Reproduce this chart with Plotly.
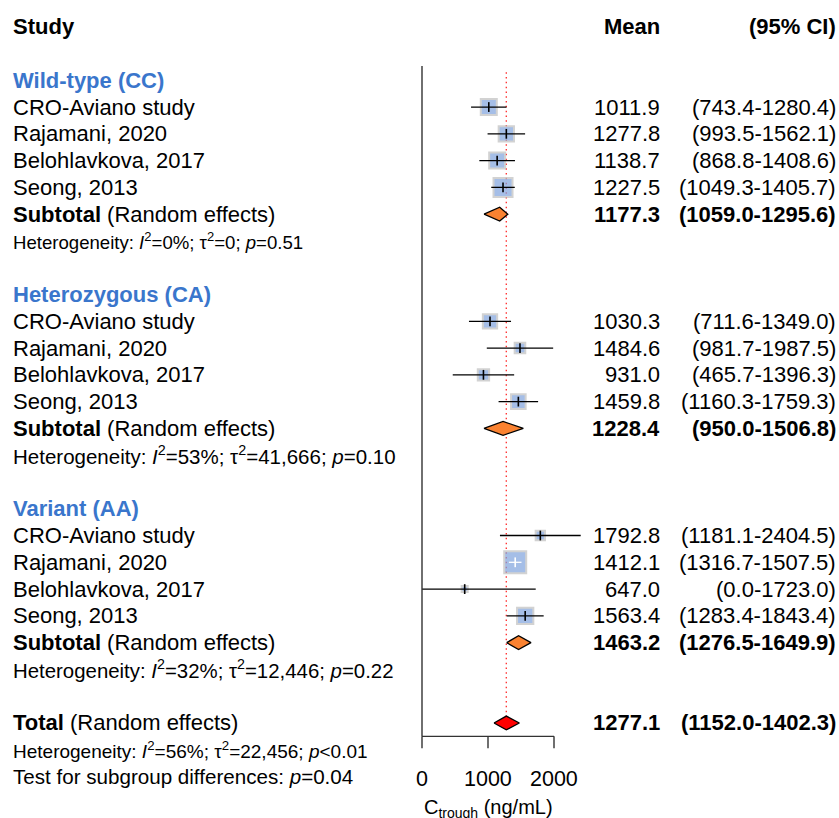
import plotly.graph_objects as go

# ---------------- data ----------------
groups = ["Wild-type (CC)", "Heterozygous (CA)", "Variant (AA)"]
studies = ["CRO-Aviano study", "Rajamani, 2020", "Belohlavkova, 2017", "Seong, 2013"]

mean_cc = [1011.9, 1277.8, 1138.7, 1227.5]
lo_cc = [743.4, 993.5, 868.8, 1049.3]
hi_cc = [1280.4, 1562.1, 1408.6, 1405.7]

mean_ca = [1030.3, 1484.6, 931.0, 1459.8]
lo_ca = [711.6, 981.7, 465.7, 1160.3]
hi_ca = [1349.0, 1987.5, 1396.3, 1759.3]

mean_aa = [1792.8, 1412.1, 647.0, 1563.4]
lo_aa = [1181.1, 1316.7, 0.0, 1283.4]
hi_aa = [2404.5, 1507.5, 1723.0, 1843.4]

# relative study weights (box size)
weight_cc = [16.0, 15.3, 16.0, 19.0]
weight_ca = [14.3, 10.6, 11.3, 14.6]
weight_aa = [9.3, 22.0, 6.0, 16.3]

sub_mean = [1177.3, 1228.4, 1463.2]
sub_lo = [1059.0, 950.0, 1276.5]
sub_hi = [1295.6, 1506.8, 1649.9]
# diamond extents as drawn in the picture
sub_draw_lo = [940.0, 939.0, 1283.0]
sub_draw_hi = [1300.0, 1535.0, 1651.0]

het_i2 = ["0%", "53%", "32%"]
het_tau2 = ["0", "41,666", "12,446"]
het_p = ["=0.51", "=0.10", "=0.22"]

total_mean = 1277.1
total_lo = 1152.0
total_hi = 1402.3
total_draw_lo = 1091.0
total_draw_hi = 1475.0
total_i2 = "56%"
total_tau2 = "22,456"
total_p = "<0.01"
subgroup_p = "=0.04"

x_ticks = [0, 1000, 2000]
x_tick_labels = ["0", "1000", "2000"]

# ---------------- geometry / style ----------------
W, H = 839, 818
x0_px = 422.0                # page x of value 0
ppu = 0.066                  # pixels per unit
row0_px = 26.7               # page y of row 0
row_h = 26.78
FONT = "Liberation Sans, Arial, Helvetica, sans-serif"
BLUE = "#3a76cc"
BOX_FILL = "#7fa3dd"
BOX_LINE = "#c0c0c0"
ORANGE = "#fa8231"
HET_FONT = [18.6, 20.5, 20.4]
HET_FONT_TOTAL = 19

all_means = [mean_cc, mean_ca, mean_aa]
all_lo = [lo_cc, lo_ca, lo_aa]
all_hi = [hi_cc, hi_ca, hi_aa]
all_w = [weight_cc, weight_ca, weight_aa]

fig = go.Figure()
annotations = []


def txt(x_px, row, s, anchor="left", size=22, color="black"):
    annotations.append(dict(
        x=x_px / W, xref="paper", y=row, yref="y", text=s, showarrow=False,
        xanchor=anchor, yanchor="middle", borderpad=0, borderwidth=0,
        font=dict(family=FONT, size=size, color=color)))


# header
txt(13, 0, "<b>Study</b>")
txt(660, 0, "<b>Mean</b>", anchor="right")
txt(836, 0, "<b>(95% CI)</b>", anchor="right")

box_x, box_y, box_s = [], [], []
ci_black_x, ci_black_y, ci_white_x, ci_white_y = [], [], [], []
tick_black_x, tick_black_y, tick_white_x, tick_white_y = [], [], [], []
dia_x, dia_y = [], []
hh = 6.9 / row_h

for g in range(3):
    r0 = 2 + g * 8
    txt(13, r0, "<b>" + groups[g] + "</b>", color=BLUE)
    for i in range(4):
        r = r0 + 1 + i
        m, lo, hi, w = all_means[g][i], all_lo[g][i], all_hi[g][i], all_w[g][i]
        txt(13, r, studies[i])
        txt(660, r, f"{m:.1f}", anchor="right")
        txt(836, r, f"({lo:.1f}-{hi:.1f})", anchor="right")
        box_x.append(m); box_y.append(r); box_s.append(w)
        if (hi - lo) * ppu < w:
            ci_white_x += [lo, hi, None]; ci_white_y += [r, r, None]
            tick_white_x.append(m); tick_white_y.append(r)
        else:
            ci_black_x += [lo, hi, None]; ci_black_y += [r, r, None]
            tick_black_x.append(m); tick_black_y.append(r)
    rs = r0 + 5
    txt(13, rs, "<b>Subtotal</b> (Random effects)")
    txt(660, rs, f"<b>{sub_mean[g]:.1f}</b>", anchor="right")
    txt(836, rs, f"<b>({sub_lo[g]:.1f}-{sub_hi[g]:.1f})</b>", anchor="right")
    dia_x += [sub_draw_lo[g], sub_mean[g], sub_draw_hi[g], sub_mean[g], sub_draw_lo[g], None]
    dia_y += [rs, rs - hh, rs, rs + hh, rs, None]
    txt(13, rs + 1, "Heterogeneity: <i>I</i><sup>2</sup>=" + het_i2[g] + "; τ<sup>2</sup>="
        + het_tau2[g] + "; <i>p</i>" + het_p[g], size=HET_FONT[g])

rt = 26
txt(13, rt, "<b>Total</b> (Random effects)")
txt(660, rt, f"<b>{total_mean:.1f}</b>", anchor="right")
txt(836, rt, f"<b>({total_lo:.1f}-{total_hi:.1f})</b>", anchor="right")
txt(13, rt + 1, "Heterogeneity: <i>I</i><sup>2</sup>=" + total_i2 + "; τ<sup>2</sup>="
    + total_tau2 + "; <i>p</i>" + total_p, size=HET_FONT_TOTAL)
txt(13, rt + 2, "Test for subgroup differences: <i>p</i>" + subgroup_p, size=20.6)

# reference (dotted) line at the total estimate
fig.add_trace(go.Scatter(x=[total_mean, total_mean], y=[1.7, 25.75], mode="lines",
                         line=dict(color="#ff2a2a", width=1.3, dash="1.5px,3.3px"),
                         hoverinfo="skip"))

# boxes
fig.add_trace(go.Scatter(x=box_x, y=box_y, mode="markers",
                         marker=dict(symbol="square", size=box_s, color=BOX_FILL,
                                     line=dict(color=BOX_LINE, width=2)),
                         hoverinfo="skip"))
# CIs
fig.add_trace(go.Scatter(x=ci_black_x, y=ci_black_y, mode="lines",
                         line=dict(color="black", width=1.3), hoverinfo="skip"))
fig.add_trace(go.Scatter(x=ci_white_x, y=ci_white_y, mode="lines",
                         line=dict(color="white", width=1.3), hoverinfo="skip"))
fig.add_trace(go.Scatter(x=tick_black_x, y=tick_black_y, mode="markers",
                         marker=dict(symbol="line-ns", size=7,
                                     line=dict(color="black", width=1.6)),
                         hoverinfo="skip"))
fig.add_trace(go.Scatter(x=tick_white_x, y=tick_white_y, mode="markers",
                         marker=dict(symbol="line-ns", size=7,
                                     line=dict(color="white", width=1.6)),
                         hoverinfo="skip"))
# subtotal diamonds
fig.add_trace(go.Scatter(x=dia_x, y=dia_y, mode="lines", fill="toself",
                         fillcolor=ORANGE, line=dict(color="black", width=1.3),
                         hoverinfo="skip"))
# total diamond
fig.add_trace(go.Scatter(
    x=[total_draw_lo, total_mean, total_draw_hi, total_mean, total_draw_lo],
    y=[rt, rt - hh, rt, rt + hh, rt], mode="lines", fill="toself",
    fillcolor="#ff0000", line=dict(color="black", width=1.3), hoverinfo="skip"))

# axes drawn as lines
axis_row = 26.5
tick_len = 12 / row_h
ax_x = [x_ticks[0], x_ticks[-1], None]
ax_y = [axis_row, axis_row, None]
for t in x_ticks:
    ax_x += [t, t, None]
    ax_y += [axis_row, axis_row + tick_len, None]
ax_x += [0, 0]
ax_y += [1.47, axis_row]
fig.add_trace(go.Scatter(x=ax_x, y=ax_y, mode="lines",
                         line=dict(color="#333333", width=1.4), hoverinfo="skip"))

for t, lab in zip(x_ticks, x_tick_labels):
    annotations.append(dict(x=t, xref="x", y=28.1, yref="y", text=lab, showarrow=False,
                            xanchor="center", yanchor="middle", borderpad=0, borderwidth=0,
                            font=dict(family=FONT, size=21.5, color="black")))
annotations.append(dict(x=(x_ticks[0] + x_ticks[-1]) / 2, xref="x", y=29.2, yref="y",
                        text="C<sub>trough</sub> (ng/mL)", showarrow=False,
                        xanchor="center", yanchor="middle", borderpad=0, borderwidth=0,
                        font=dict(family=FONT, size=20, color="black")))

fig.update_layout(
    width=W, height=H, margin=dict(l=0, r=0, t=0, b=0),
    paper_bgcolor="white", plot_bgcolor="white", showlegend=False,
    xaxis=dict(range=[-x0_px / ppu, (W - x0_px) / ppu], visible=False, fixedrange=True),
    yaxis=dict(range=[(H - row0_px) / row_h, -row0_px / row_h], visible=False, fixedrange=True),
    annotations=annotations, hovermode=False,
)

fig.write_html("out.html", config={"displayModeBar": False},
               post_script="document.body.style.margin='0';"
                           "document.body.style.overflow='hidden';")
